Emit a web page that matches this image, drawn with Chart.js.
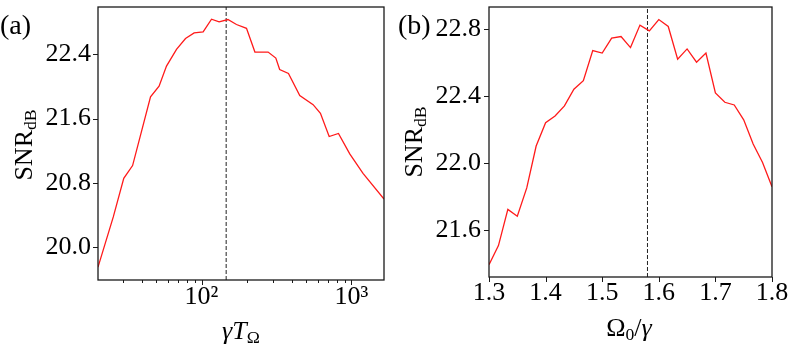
<!DOCTYPE html>
<html>
<head>
<meta charset="utf-8">
<script src="https://cdn.jsdelivr.net/npm/chart.js@4"></script>
<style>
body { margin: 0; background: #fff; }
#wrap { position: relative; width: 797px; height: 350px; overflow: hidden; background: #fff; }
.pane { position: absolute; top: 0; }
.lbl { position: absolute; font-family: 'Liberation Serif', serif; font-size: 26px; line-height: 1; color: #000; white-space: nowrap; }
.lbl sub { font-size: 68%; vertical-align: -0.22em; line-height: 0; }
.rot { transform: translate(-50%, -50%) rotate(-90deg); }
.ctr { transform: translate(-50%, -50%); }
</style>
</head>
<body>
<div id="wrap">
  <canvas id="chartA" class="pane" style="left:0px" width="397" height="350"></canvas>
  <canvas id="chartB" class="pane" style="left:397px" width="400" height="350"></canvas>

  <div class="lbl" style="left:0px; top:11px; font-size:28px">(a)</div>
  <div class="lbl" style="left:398px; top:11px; font-size:28px">(b)</div>
  <div class="lbl rot" style="left:24px; top:145px">SNR<sub>dB</sub></div>
  <div class="lbl rot" style="left:414px; top:142px">SNR<sub>dB</sub></div>
  <div class="lbl ctr" style="left:241px; top:331px"><i>γT</i><sub>Ω</sub></div>
  <div class="lbl ctr" style="left:629px; top:328px">Ω<sub>0</sub>/<i>γ</i></div>
</div>

<script>
// panel (a): SNR vs gamma*T_Omega (log axis)
const gammaT = [20.4, 25.8, 30.3, 34.7, 45.7, 52.1, 58.4, 68.1, 78.2, 89.3, 102.5, 116.6, 131, 150, 171, 199.5, 227, 278, 313, 332, 380, 452, 555, 621, 710, 819, 974, 1194, 1648];
const snrA = [19.75, 20.376, 20.857, 21.015, 21.871, 22.003, 22.254, 22.463, 22.597, 22.667, 22.679, 22.838, 22.804, 22.834, 22.772, 22.725, 22.429, 22.429, 22.354, 22.212, 22.162, 21.887, 21.774, 21.665, 21.377, 21.415, 21.16, 20.919, 20.598];
const optimumA = 146;
const yTicksA = [20.0, 20.8, 21.6, 22.4];
const xMajorA = [100, 1000];
const xMajorLabelsA = ["10²", "10³"];
const xMinorA = [30, 40, 50, 60, 70, 80, 90, 200, 300, 400, 500, 600, 700, 800, 900];
const yRangeA = [19.59, 22.99];

// panel (b): SNR vs Omega_0/gamma
const omegaRatio = [1.3, 1.3167, 1.3333, 1.35, 1.3667, 1.3833, 1.4, 1.4167, 1.4333, 1.45, 1.4667, 1.4833, 1.5, 1.5167, 1.5333, 1.55, 1.5667, 1.5833, 1.6, 1.6167, 1.6333, 1.65, 1.6667, 1.6833, 1.7, 1.7167, 1.7333, 1.75, 1.7667, 1.7833, 1.8];
const snrB = [21.396, 21.509, 21.725, 21.684, 21.853, 22.103, 22.242, 22.282, 22.342, 22.442, 22.493, 22.672, 22.657, 22.746, 22.756, 22.69, 22.824, 22.79, 22.857, 22.816, 22.621, 22.682, 22.603, 22.657, 22.42, 22.364, 22.348, 22.259, 22.115, 22.005, 21.86];
const optimumB = 1.58;
const yTicksB = [21.6, 22.0, 22.4, 22.8];
const xTicksB = [1.3, 1.4, 1.5, 1.6, 1.7, 1.8];
const yRangeB = [21.322, 22.932];

Chart.defaults.font.family = "'Liberation Serif', serif";
Chart.defaults.font.size = 26;
Chart.defaults.color = "#000";

// frame + tick marks like matplotlib
const axisBox = {
  id: "axisBox",
  afterDraw(chart, args, opts) {
    const ctx = chart.ctx;
    const a = chart.chartArea;
    const xs = chart.scales.x;
    const ys = chart.scales.y;
    ctx.save();
    ctx.strokeStyle = "#1a1a1a";
    ctx.lineWidth = 1;
    ctx.beginPath();
    opts.xMajor.forEach((v) => {
      const px = Math.round(xs.getPixelForValue(v)) + 0.5;
      ctx.moveTo(px, a.bottom);
      ctx.lineTo(px, a.bottom + 5);
    });
    (opts.xMinor || []).forEach((v) => {
      const px = Math.round(xs.getPixelForValue(v)) + 0.5;
      ctx.moveTo(px, a.bottom);
      ctx.lineTo(px, a.bottom + 3);
    });
    opts.yMajor.forEach((v) => {
      const py = Math.round(ys.getPixelForValue(v)) + 0.5;
      ctx.moveTo(a.left - 5, py);
      ctx.lineTo(a.left, py);
    });
    ctx.stroke();
    ctx.lineWidth = 1.3;
    ctx.strokeRect(a.left, a.top, a.right - a.left, a.bottom - a.top);
    ctx.restore();
  },
};

const ctxA = document.getElementById("chartA");
const chartA = new Chart(ctxA, {
  type: "line",
  data: {
    datasets: [
      {
        data: gammaT.map((x, i) => ({ x: x, y: snrA[i] })),
        borderColor: "#ff1a1a",
        borderWidth: 1.3,
        pointRadius: 0,
        tension: 0,
      },
      {
        data: [
          { x: optimumA, y: yRangeA[0] },
          { x: optimumA, y: yRangeA[1] },
        ],
        borderColor: "#222",
        borderWidth: 1,
        borderDash: [4, 2],
        pointRadius: 0,
      },
    ],
  },
  options: {
    responsive: false,
    animation: false,
    layout: { padding: { left: 0, top: 7, right: 13, bottom: 0 } },
    plugins: {
      legend: { display: false },
      tooltip: { enabled: false },
      axisBox: { xMajor: xMajorA, xMinor: xMinorA, yMajor: yTicksA },
    },
    scales: {
      x: {
        type: "logarithmic",
        min: gammaT[0],
        max: gammaT[gammaT.length - 1],
        grid: { display: false, drawTicks: false },
        border: { display: false },
        afterBuildTicks: (scale) => {
          scale.ticks = xMajorA.map((v) => ({ value: v }));
        },
        afterFit: (scale) => {
          scale.height = 70;
          scale.paddingLeft = 0;
          scale.paddingRight = 0;
        },
        ticks: {
          autoSkip: false,
          maxRotation: 0,
          padding: 2,
          callback: (value, index) => xMajorLabelsA[index],
        },
      },
      y: {
        min: yRangeA[0],
        max: yRangeA[1],
        grid: { display: false, drawTicks: false },
        border: { display: false },
        afterBuildTicks: (scale) => {
          scale.ticks = yTicksA.map((v) => ({ value: v }));
        },
        afterFit: (scale) => {
          scale.width = 98;
          scale.paddingTop = 0;
          scale.paddingBottom = 0;
        },
        ticks: {
          padding: 7,
          callback: (value) => value.toFixed(1),
        },
      },
    },
  },
  plugins: [axisBox],
});

const ctxB = document.getElementById("chartB");
const chartB = new Chart(ctxB, {
  type: "line",
  data: {
    datasets: [
      {
        data: omegaRatio.map((x, i) => ({ x: x, y: snrB[i] })),
        borderColor: "#ff1a1a",
        borderWidth: 1.3,
        pointRadius: 0,
        tension: 0,
      },
      {
        data: [
          { x: optimumB, y: yRangeB[0] },
          { x: optimumB, y: yRangeB[1] },
        ],
        borderColor: "#222",
        borderWidth: 1,
        borderDash: [4, 2],
        pointRadius: 0,
      },
    ],
  },
  options: {
    responsive: false,
    animation: false,
    layout: { padding: { left: 0, top: 7, right: 25, bottom: 0 } },
    plugins: {
      legend: { display: false },
      tooltip: { enabled: false },
      axisBox: { xMajor: xTicksB, yMajor: yTicksB },
    },
    scales: {
      x: {
        type: "linear",
        min: omegaRatio[0],
        max: omegaRatio[omegaRatio.length - 1],
        grid: { display: false, drawTicks: false },
        border: { display: false },
        afterBuildTicks: (scale) => {
          scale.ticks = xTicksB.map((v) => ({ value: v }));
        },
        afterFit: (scale) => {
          scale.height = 73;
          scale.paddingLeft = 0;
          scale.paddingRight = 0;
        },
        ticks: {
          autoSkip: false,
          maxRotation: 0,
          padding: 1,
          callback: (value) => value.toFixed(1),
        },
      },
      y: {
        min: yRangeB[0],
        max: yRangeB[1],
        grid: { display: false, drawTicks: false },
        border: { display: false },
        afterBuildTicks: (scale) => {
          scale.ticks = yTicksB.map((v) => ({ value: v }));
        },
        afterFit: (scale) => {
          scale.width = 92;
          scale.paddingTop = 0;
          scale.paddingBottom = 0;
        },
        ticks: {
          padding: 8,
          callback: (value) => value.toFixed(1),
        },
      },
    },
  },
  plugins: [axisBox],
});
</script>
</body>
</html>
